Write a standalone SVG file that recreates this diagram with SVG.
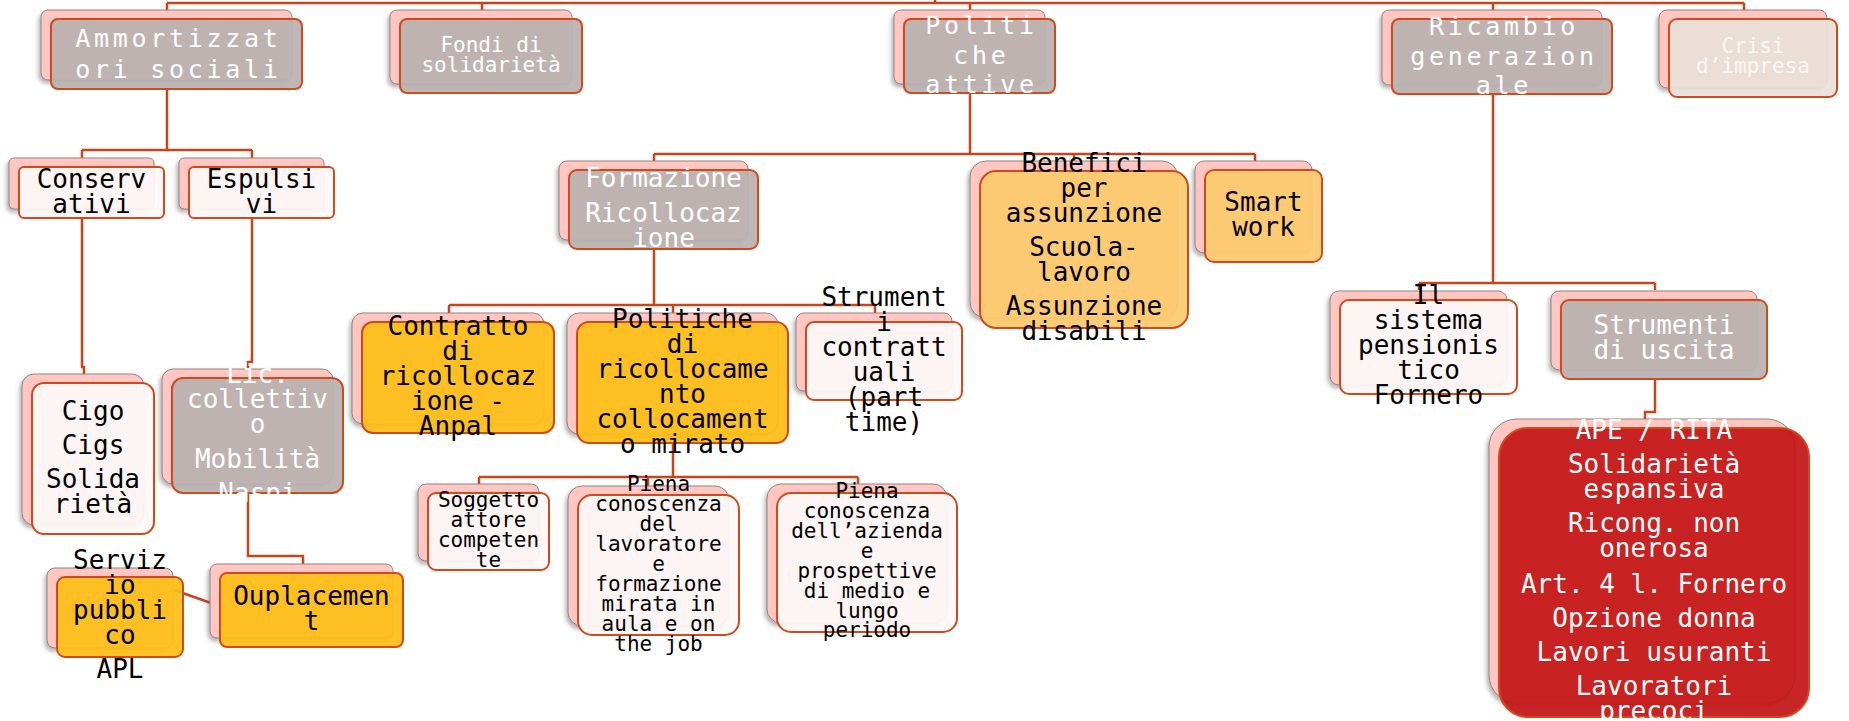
<svg xmlns="http://www.w3.org/2000/svg" width="1849" height="721" viewBox="0 0 1849 721">
<defs>
<filter id="sh" x="-10%" y="-10%" width="120%" height="125%">
<feDropShadow dx="-2" dy="3" stdDeviation="2" flood-color="#555" flood-opacity="0.45"/>
</filter>
</defs>
<style>
.bk{fill:#ffc6c2;stroke:#8f8784;stroke-width:1;filter:url(#sh)}
.fr{stroke:#d24a1c;stroke-width:2;fill-opacity:0.93}
.gray{fill:#bab2b0}.wht{fill:#fdf8f7}.gold{fill:#fdbe16}.lor{fill:#fdca6e}.beige{fill:#e9e0d8}.red{fill:#c41616}
text{font-family:"DejaVu Sans Mono","Liberation Mono",monospace;text-anchor:middle}
.tb{font-size:26px;fill:#000}
.tw{font-size:26px;fill:#fff}
.tL{font-size:25px;fill:#fff;letter-spacing:3.7px}
.ts{font-size:21px;fill:#fff}
.tsb{font-size:21px;fill:#000}
.tc{font-size:21px;fill:#faf7f3}
.cn{fill:none;stroke:#c8441b;stroke-width:2.5}
</style>
<rect width="1849" height="721" fill="#fff"/>
<g id="connectors">
<path class="cn" d="M935,0V3M167,3H1744M167,3V10M482,3V10M970,3V10M1493,3V10M1744,3V10"/>
<path class="cn" d="M167,89V150M82,150H252M82,150V158M252,150V158"/>
<path class="cn" d="M82,218V367H84V374"/>
<path class="cn" d="M252,218V362H248V369"/>
<path class="cn" d="M248,493V556H303V564"/>
<path class="cn" d="M174,590L211,603"/>
<path class="cn" d="M970,93V154M654,154H1255M654,154V161M1074,154V161M1255,154V161"/>
<path class="cn" d="M654,249V305M449,305H875M449,305V313M673,305V313M875,305V313"/>
<path class="cn" d="M673,443V477M479,477H858M479,477V484M648,477V486M858,477V484"/>
<path class="cn" d="M1493,94V283M1419,283H1655M1419,283V290M1655,283V290"/>
<path class="cn" d="M1655,379V412H1645V419"/>
</g>
<g id="n-ammortizzatori">
<rect class="bk" x="41" y="10" width="251" height="70" rx="7"/>
<rect class="fr gray" x="51" y="19" width="251" height="70" rx="7"/>
<text class="tL"><tspan x="178.4" y="47">Ammortizzat</tspan><tspan x="178.4" y="78">ori sociali</tspan></text>
</g>
<g id="n-fondi">
<rect class="bk" x="390" y="10" width="182" height="74" rx="7"/>
<rect class="fr gray" x="400" y="19" width="182" height="74" rx="7"/>
<text class="ts"><tspan x="491" y="52">Fondi di</tspan><tspan x="491" y="72">solidarietà</tspan></text>
</g>
<g id="n-politiche-attive">
<rect class="bk" x="894" y="10" width="151" height="74" rx="7"/>
<rect class="fr gray" x="904" y="19" width="151" height="74" rx="7"/>
<text class="tL"><tspan x="981.4" y="34">Politi</tspan><tspan x="981.4" y="64">che</tspan><tspan x="981.4" y="93">attive</tspan></text>
</g>
<g id="n-ricambio">
<rect class="bk" x="1382" y="10" width="220" height="75" rx="7"/>
<rect class="fr gray" x="1392" y="19" width="220" height="75" rx="7"/>
<text class="tL"><tspan x="1503.9" y="35">Ricambio</tspan><tspan x="1503.9" y="65">generazion</tspan><tspan x="1503.9" y="94">ale</tspan></text>
</g>
<g id="n-crisi">
<rect class="bk" x="1659" y="10" width="168" height="78" rx="8"/>
<rect class="fr beige" x="1669" y="19" width="168" height="78" rx="8"/>
<text class="tc"><tspan x="1753" y="53">Crisi</tspan><tspan x="1753" y="73">d’impresa</tspan></text>
</g>
<g id="n-conservativi">
<rect class="bk" x="9" y="158" width="145" height="51" rx="5"/>
<rect class="fr wht" x="19" y="167" width="145" height="51" rx="5"/>
<text class="tb"><tspan x="91.5" y="188">Conserv</tspan><tspan x="91.5" y="213">ativi</tspan></text>
</g>
<g id="n-espulsivi">
<rect class="bk" x="179" y="158" width="145" height="51" rx="5"/>
<rect class="fr wht" x="189" y="167" width="145" height="51" rx="5"/>
<text class="tb"><tspan x="261.5" y="188">Espulsi</tspan><tspan x="261.5" y="213">vi</tspan></text>
</g>
<g id="n-cigo">
<rect class="bk" x="22" y="374" width="122" height="151" rx="12"/>
<rect class="fr wht" x="32" y="383" width="122" height="151" rx="12"/>
<text class="tb"><tspan x="93" y="420">Cigo</tspan><tspan x="93" y="454">Cigs</tspan><tspan x="93" y="488">Solida</tspan><tspan x="93" y="513">rietà</tspan></text>
</g>
<g id="n-lic">
<rect class="bk" x="162" y="369" width="171" height="115" rx="11"/>
<rect class="fr gray" x="172" y="378" width="171" height="115" rx="11"/>
<text class="tw"><tspan x="257.5" y="383">Lic.</tspan><tspan x="257.5" y="408">collettiv</tspan><tspan x="257.5" y="433">o</tspan><tspan x="257.5" y="468">Mobilità</tspan><tspan x="257.5" y="502">Naspi</tspan></text>
</g>
<g id="n-servizio">
<rect class="bk" x="47" y="568" width="126" height="80" rx="8"/>
<rect class="fr gold" x="57" y="577" width="126" height="80" rx="8"/>
<text class="tb"><tspan x="120" y="569">Serviz</tspan><tspan x="120" y="594">io</tspan><tspan x="120" y="619">pubbli</tspan><tspan x="120" y="644">co</tspan><tspan x="120" y="678">APL</tspan></text>
</g>
<g id="n-ouplacement">
<rect class="bk" x="210" y="564" width="183" height="74" rx="7"/>
<rect class="fr gold" x="220" y="573" width="183" height="74" rx="7"/>
<text class="tb"><tspan x="311.5" y="605">Ouplacemen</tspan><tspan x="311.5" y="630">t</tspan></text>
</g>
<g id="n-formazione">
<rect class="bk" x="559" y="161" width="189" height="79" rx="8"/>
<rect class="fr gray" x="569" y="170" width="189" height="79" rx="8"/>
<text class="tw"><tspan x="663.5" y="187">Formazione</tspan><tspan x="663.5" y="222">Ricollocaz</tspan><tspan x="663.5" y="247">ione</tspan></text>
</g>
<g id="n-benefici">
<rect class="bk" x="970" y="161" width="208" height="157" rx="16"/>
<rect class="fr lor" x="980" y="171" width="208" height="157" rx="16"/>
<text class="tb"><tspan x="1084" y="172">Benefici</tspan><tspan x="1084" y="197">per</tspan><tspan x="1084" y="222">assunzione</tspan><tspan x="1084" y="256">Scuola-</tspan><tspan x="1084" y="281">lavoro</tspan><tspan x="1084" y="315">Assunzione</tspan><tspan x="1084" y="340">disabili</tspan></text>
</g>
<g id="n-smart">
<rect class="bk" x="1195" y="161" width="117" height="92" rx="9"/>
<rect class="fr lor" x="1205" y="170" width="117" height="92" rx="9"/>
<text class="tb"><tspan x="1263.5" y="211">Smart</tspan><tspan x="1263.5" y="236">work</tspan></text>
</g>
<g id="n-contratto">
<rect class="bk" x="352" y="313" width="192" height="111" rx="11"/>
<rect class="fr gold" x="362" y="322" width="192" height="111" rx="11"/>
<text class="tb"><tspan x="458" y="335">Contratto</tspan><tspan x="458" y="360">di</tspan><tspan x="458" y="385">ricollocaz</tspan><tspan x="458" y="410">ione -</tspan><tspan x="458" y="435">Anpal</tspan></text>
</g>
<g id="n-politiche-ricollocamento">
<rect class="bk" x="567" y="313" width="211" height="121" rx="12"/>
<rect class="fr gold" x="577" y="322" width="211" height="121" rx="12"/>
<text class="tb"><tspan x="682.5" y="328">Politiche</tspan><tspan x="682.5" y="353">di</tspan><tspan x="682.5" y="378">ricollocame</tspan><tspan x="682.5" y="403">nto</tspan><tspan x="682.5" y="428">collocament</tspan><tspan x="682.5" y="453">o mirato</tspan></text>
</g>
<g id="n-strumenti-contrattuali">
<rect class="bk" x="796" y="313" width="156" height="78" rx="8"/>
<rect class="fr wht" x="806" y="322" width="156" height="78" rx="8"/>
<text class="tb"><tspan x="884" y="306">Strument</tspan><tspan x="884" y="331">i</tspan><tspan x="884" y="356">contratt</tspan><tspan x="884" y="381">uali</tspan><tspan x="884" y="406">(part</tspan><tspan x="884" y="431">time)</tspan></text>
</g>
<g id="n-soggetto">
<rect class="bk" x="418" y="484" width="121" height="77" rx="8"/>
<rect class="fr wht" x="428" y="493" width="121" height="77" rx="8"/>
<text class="tsb"><tspan x="488.5" y="507">Soggetto</tspan><tspan x="488.5" y="527">attore</tspan><tspan x="488.5" y="547">competen</tspan><tspan x="488.5" y="567">te</tspan></text>
</g>
<g id="n-piena-lavoratore">
<rect class="bk" x="568" y="486" width="161" height="140" rx="14"/>
<rect class="fr wht" x="578" y="495" width="161" height="140" rx="14"/>
<text class="tsb"><tspan x="658.5" y="491">Piena</tspan><tspan x="658.5" y="511">conoscenza</tspan><tspan x="658.5" y="531">del</tspan><tspan x="658.5" y="551">lavoratore</tspan><tspan x="658.5" y="571">e</tspan><tspan x="658.5" y="591">formazione</tspan><tspan x="658.5" y="611">mirata in</tspan><tspan x="658.5" y="631">aula e on</tspan><tspan x="658.5" y="651">the job</tspan></text>
</g>
<g id="n-piena-azienda">
<rect class="bk" x="767" y="484" width="180" height="139" rx="14"/>
<rect class="fr wht" x="777" y="493" width="180" height="139" rx="14"/>
<text class="tsb"><tspan x="867" y="498">Piena</tspan><tspan x="867" y="518">conoscenza</tspan><tspan x="867" y="538">dell’azienda</tspan><tspan x="867" y="558">e</tspan><tspan x="867" y="578">prospettive</tspan><tspan x="867" y="598">di medio e</tspan><tspan x="867" y="618">lungo</tspan><tspan x="867" y="637">periodo</tspan></text>
</g>
<g id="n-sistema">
<rect class="bk" x="1330" y="291" width="177" height="94" rx="9"/>
<rect class="fr wht" x="1340" y="300" width="177" height="94" rx="9"/>
<text class="tb"><tspan x="1428.5" y="304">Il</tspan><tspan x="1428.5" y="329">sistema</tspan><tspan x="1428.5" y="354">pensionis</tspan><tspan x="1428.5" y="379">tico</tspan><tspan x="1428.5" y="404">Fornero</tspan></text>
</g>
<g id="n-strumenti-uscita">
<rect class="bk" x="1551" y="291" width="206" height="79" rx="8"/>
<rect class="fr gray" x="1561" y="300" width="206" height="79" rx="8"/>
<text class="tw"><tspan x="1664" y="334">Strumenti</tspan><tspan x="1664" y="359">di uscita</tspan></text>
</g>
<g id="n-ape">
<rect class="bk" x="1489" y="419" width="306" height="284" rx="28"/>
<rect class="fr red" x="1499" y="428" width="310" height="289" rx="29"/>
<text class="tw"><tspan x="1654" y="439">APE / RITA</tspan><tspan x="1654" y="473">Solidarietà</tspan><tspan x="1654" y="498">espansiva</tspan><tspan x="1654" y="532">Ricong. non</tspan><tspan x="1654" y="557">onerosa</tspan><tspan x="1654" y="593">Art. 4 l. Fornero</tspan><tspan x="1654" y="627">Opzione donna</tspan><tspan x="1654" y="661">Lavori usuranti</tspan><tspan x="1654" y="695">Lavoratori</tspan><tspan x="1654" y="720">precoci</tspan></text>
</g>
</svg>
